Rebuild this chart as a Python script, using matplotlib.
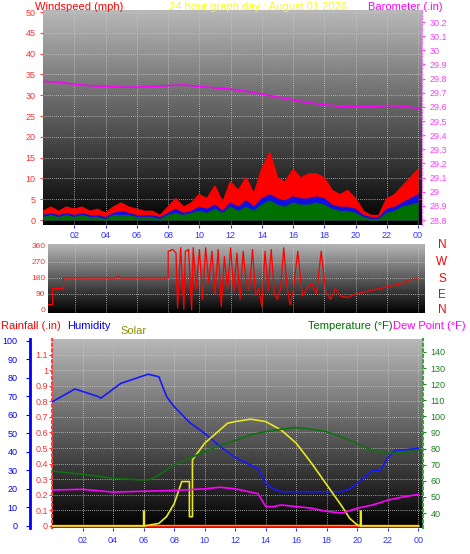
import numpy as np
import matplotlib
matplotlib.use("Agg")
import matplotlib.pyplot as plt

plt.rcParams['font.family'] = ['Liberation Sans', 'DejaVu Sans']

# ---------------- data ----------------
hour_ticks = [2, 4, 6, 8, 10, 12, 14, 16, 18, 20, 22, 24]
hour_labels = ['02', '04', '06', '08', '10', '12', '14', '16', '18', '20', '22', '00']

wind_gust = [2,3,2,3,2.5,3,2,2.5,1.5,3,4,3,2.5,2,2,1,3,5,3,4,6,5,8,4,
             9,7,10,6,12,16,10,9,12,10,11,11,10,7,6,7,5,
             2,1,1,5,6,8,10,12]
wind_avg = [1,1.5,1,1.5,1,1.5,1,1,0.5,1.5,2,1.5,1,1,1,0.5,1.5,2.5,1.5,2,3,2.5,3.5,2,
            4,3,4.5,3,5,6,5,4.5,5.5,5,5,5.5,5,3.5,3,3,2.5,
            1,0.5,0.5,2.5,3,4,5,6]
wind_low = [0.5,1,0.5,1,0.5,1,0.5,0.5,0,1,1,1,0.5,0.5,0.5,0,1,1.5,1,1.5,2,1.5,2.5,1.5,
            3,2,3,2,3.5,4.5,3.5,3,4,3.5,3.5,4,3.5,2.5,2,2,1.5,
            0.5,0,0,1.5,2,3,3.5,4]

baro_t = list(range(25))
baro = [29.78,29.775,29.76,29.75,29.745,29.74,29.74,29.745,29.75,29.755,29.745,29.735,
        29.725,29.71,29.69,29.67,29.65,29.63,29.615,29.605,29.6,29.6,29.61,29.605,29.59]

dir_t = [0,0.6,0.6,1.3,1.3,4.7,4.8,4.9,8.0,8.0,
         8.3,8.5,8.6,8.8,9.0,9.1,9.3,9.5,9.6,9.8,
         10.0,10.2,10.4,10.6,10.8,11.0,11.2,11.4,11.6,11.8,
         12.0,12.2,12.4,12.6,12.8,13.0,13.2,13.4,13.6,13.8,
         14.0,14.2,14.4,14.6,14.8,15.0,15.2,15.4,15.6,15.8,
         16.0,16.3,16.6,16.9,17.2,17.5,17.8,18.1,18.4,18.7,19.0,
         19.5,20,20.5,21,21.5,22,22.5,23,23.5,24]
dir_v = [30,30,120,120,180,180,195,180,180,330,
         340,320,10,350,5,330,340,0,350,120,
         340,60,350,150,330,90,340,20,300,120,
         350,100,320,60,330,150,110,340,80,120,
         20,330,110,340,90,60,120,350,140,30,
         100,330,80,120,150,90,330,100,60,120,80,
         70,90,100,110,120,130,140,150,170,175]

hum_t = [0,1.5,3,3.2,4.5,6.3,7,7.5,8,9,10,11,12,13,13.5,14,14.5,15,17,19,19.5,20,21,21.5,22,22.5,23,24]
hum = [67,74,70,69,77,82,80.6,70,64.5,56,50,43,37,33,31,23,20,18.5,18.5,18.5,20,23,30,30,37,41,41,42]

temp_t = [0,2,4,6,6.5,7,8,9,10,11,12,13,14,15,16,17,18,19,20,21,22,23,24]
temp = [66,64,61.5,60.5,61,63.6,70,74,78,82,85,88.5,90.5,92,93,92,90.5,87,83,79,77,77.5,79]

dew_t = [0,2,4,6,8,10,11,12,13,13.5,14,14.5,15,16,17,18,19,20,21,22,23,24]
dew = [54.3,54.7,53,53.5,54,55,56,55,53,52,44,44,45,44,43,41,40,43,45,48,50,51.5]

solar_t = [0,6.0,6.0,6.05,6.05,7,7.5,8,8.5,9.0,9.0,9.2,9.2,10,11,11.5,12,13,14,15,16,17,18,19,19.5,20,20.2,20.2,20.25,20.25,24]
solar = [0,0,81,81,0,14,50,120,240,240,50,50,357,447,519,555,564,577,564,519,447,339,222,105,41,5,0,80,80,0,0]

rain_t = [0,24]
rain = [0,0]

# ---------------- figure ----------------
fig = plt.figure(figsize=(4.7, 5.54), dpi=100, facecolor='white')
W, H = 470, 554

def axes_px(x0, y0, x1, y1):
    return fig.add_axes([x0 / W, 1 - y1 / H, (x1 - x0) / W, (y1 - y0) / H])

def gradient(ax):
    g = np.linspace(0.72, 0.0, 256).reshape(-1, 1)
    ax.imshow(g, cmap='gray', vmin=0, vmax=1, aspect='auto', extent=[0, 1, 0, 1],
              transform=ax.transAxes, zorder=0)

def grid(ax, yt):
    for x in hour_ticks:
        ax.axvline(x, color='#c8c8c8', lw=0.6, ls=(0, (1, 1.5)), zorder=1)
    for y in yt:
        ax.axhline(y, color='#c8c8c8', lw=0.6, ls=(0, (1, 1.5)), zorder=1)

fs = 6.5

# ---- top: wind + barometer ----
ax1 = axes_px(43, 10, 422, 225)
gradient(ax1)
ax1.set_xlim(0, 24.25)
ax1.set_ylim(-1.2, 50.5)
grid(ax1, range(5, 51, 5))
tw = np.linspace(0, 24, len(wind_gust))
ax1.fill_between(tw, 0, wind_gust, color='#ff0000', lw=0, zorder=2)
ax1.plot(tw, wind_gust, color='#ff0000', lw=1.5, zorder=2)
ax1.fill_between(tw, 0, wind_avg, color='#1010e0', lw=0, zorder=3)
ax1.plot(tw, wind_avg, color='#1010e0', lw=1.2, zorder=3)
ax1.fill_between(tw, 0, wind_low, color='#007000', lw=0, zorder=4)
ax1.plot(tw, wind_low, color='#007000', lw=1.2, zorder=4)
ax1.set_yticks(range(0, 51, 5))
ax1.tick_params(axis='y', colors='#ff4040', labelsize=fs, length=2, labelcolor='#ff3030')
ax1.set_xticks(hour_ticks)
ax1.set_xticklabels([])
ax1.tick_params(axis='x', colors='#3030ff', length=2)
for s in ax1.spines.values():
    s.set_visible(False)
ax1b = ax1.twinx()
ax1b.set_ylim(28.765, 30.285)
ax1b.plot(baro_t, baro, color='#ff00ff', lw=1.2)
ax1b.set_yticks(np.round(np.arange(28.8, 30.21, 0.1), 1))
ax1b.set_yticklabels(['28.8', '28.9', '29', '29.1', '29.2', '29.3', '29.4', '29.5', '29.6',
                      '29.7', '29.8', '29.9', '30', '30.1', '30.2'])
ax1b.tick_params(axis='y', colors='#ff40ff', labelsize=fs, length=2)
for s in ax1b.spines.values():
    s.set_visible(False)
ax1b.spines['right'].set_visible(True)
ax1b.spines['right'].set_color('#ff60ff')
ax1b.spines['right'].set_linestyle(':')

fig.text(35 / W, 1 - 7 / H, 'Windspeed (mph)', color='#ff0000', fontsize=8, va='center')
fig.text(258 / W, 1 - 7 / H, '24 hour graph day : August 01 2026', color='#ffff00', fontsize=8,
         va='center', ha='center')
fig.text(443 / W, 1 - 7 / H, 'Barometer (.in)', color='#ff00ff', fontsize=8, va='center', ha='right')

# ---- middle: wind direction ----
ax2 = axes_px(48, 244, 425, 313)
gradient(ax2)
ax2.set_xlim(0.3, 24.45)
ax2.set_ylim(-17, 371)
grid(ax2, [90, 180, 270])
ax2.plot(dir_t, dir_v, color='#ff0000', lw=0.9, zorder=3)
ax2.set_yticks([0, 90, 180, 270, 360])
ax2.tick_params(axis='y', colors='#ff3030', labelsize=fs - 0.5, length=0, pad=2)
ax2.set_xticks(hour_ticks)
ax2.set_xticklabels(hour_labels)
ax2.xaxis.tick_top()
ax2.tick_params(axis='x', colors='#3030ff', labelsize=fs, length=0, pad=3)
for s in ax2.spines.values():
    s.set_visible(False)
for lab, yy in zip(['N', 'W', 'S', 'E', 'N'], [245, 262, 279, 295, 310]):
    fig.text(442 / W, 1 - yy / H, lab, color='#ff0000', fontsize=8.5, va='center', ha='center')

# ---- bottom: rain, humidity, solar, temp, dew ----
ax3 = axes_px(52, 339, 423, 528)
gradient(ax3)
ax3.set_xlim(0, 24.3)
ax3.set_ylim(-0.013, 1.2)
grid(ax3, [0.1, 0.2, 0.3, 0.4, 0.5, 0.6, 0.7, 0.8, 0.9, 1.0, 1.1])
ax3.plot(rain_t, rain, color='#ff0000', lw=2, zorder=3)
ax3.plot(rain_t, [0.004, 0.004], color='#ff9900', lw=1, zorder=3)
ax3.set_yticks([0, 0.1, 0.2, 0.3, 0.4, 0.5, 0.6, 0.7, 0.8, 0.9, 1, 1.1])
ax3.set_yticklabels(['0', '0.1', '0.2', '0.3', '0.4', '0.5', '0.6', '0.7', '0.8', '0.9', '1', '1.1'])
ax3.tick_params(axis='y', colors='#ff3030', labelsize=fs, length=2, pad=1)
ax3.set_xticks(hour_ticks)
ax3.set_xticklabels(hour_labels)
ax3.tick_params(axis='x', colors='#3030ff', labelsize=fs, length=2)
for s in ax3.spines.values():
    s.set_visible(False)
ax3.spines['left'].set_visible(True)
ax3.spines['left'].set_color('#ff4040')
ax3.spines['left'].set_linestyle(':')
ax3.spines['left'].set_linewidth(1.5)

axh = ax3.twinx()
axh.set_ylim(-1.1, 101)
axh.yaxis.tick_left()
axh.yaxis.set_label_position('left')
for s in axh.spines.values():
    s.set_visible(False)
axh.spines['left'].set_visible(True)
axh.spines['left'].set_position(('axes', -22 / 371))
axh.spines['left'].set_color('#0000ff')
axh.spines['left'].set_linewidth(2)
axh.set_yticks(range(0, 101, 10))
axh.tick_params(axis='y', colors='#0000ff', labelsize=fs, length=3, pad=6)
axh.plot(hum_t, hum, color='#1818ff', lw=1.2, zorder=5)

axs = ax3.twinx()
axs.set_ylim(-11, 1010)
axs.set_yticks([])
for s in axs.spines.values():
    s.set_visible(False)
axs.plot(solar_t, solar, color='#e8e820', lw=1.2, zorder=6)

axt = ax3.twinx()
axt.set_ylim(30.7, 148)
for s in axt.spines.values():
    s.set_visible(False)
axt.spines['right'].set_visible(True)
axt.spines['right'].set_color('#40a040')
axt.spines['right'].set_linestyle(':')
axt.spines['right'].set_linewidth(1.5)
axt.set_yticks(range(40, 141, 10))
axt.tick_params(axis='y', colors='#208020', labelsize=fs, length=2)
axt.plot(temp_t, temp, color='#107010', lw=1.2, zorder=4)
axt.plot(dew_t, dew, color='#ff00ff', lw=1.2, zorder=4)

fig.text(1 / W, 1 - 326 / H, 'Rainfall (.in)', color='#ff0000', fontsize=8, va='center')
fig.text(67 / W, 1 - 326 / H, 'Humidity', color='#0000ff', fontsize=8, va='center')
fig.text(120 / W, 1 - 331 / H, 'Solar', color='#909000', fontsize=8, va='center')
fig.text(393 / W, 1 - 326 / H, 'Temperature (°F)', color='#007000', fontsize=8, va='center', ha='right')
fig.text(466 / W, 1 - 326 / H, 'Dew Point (°F)', color='#ff00ff', fontsize=8, va='center', ha='right')

fig.savefig('out.png', dpi=100, facecolor='white')
